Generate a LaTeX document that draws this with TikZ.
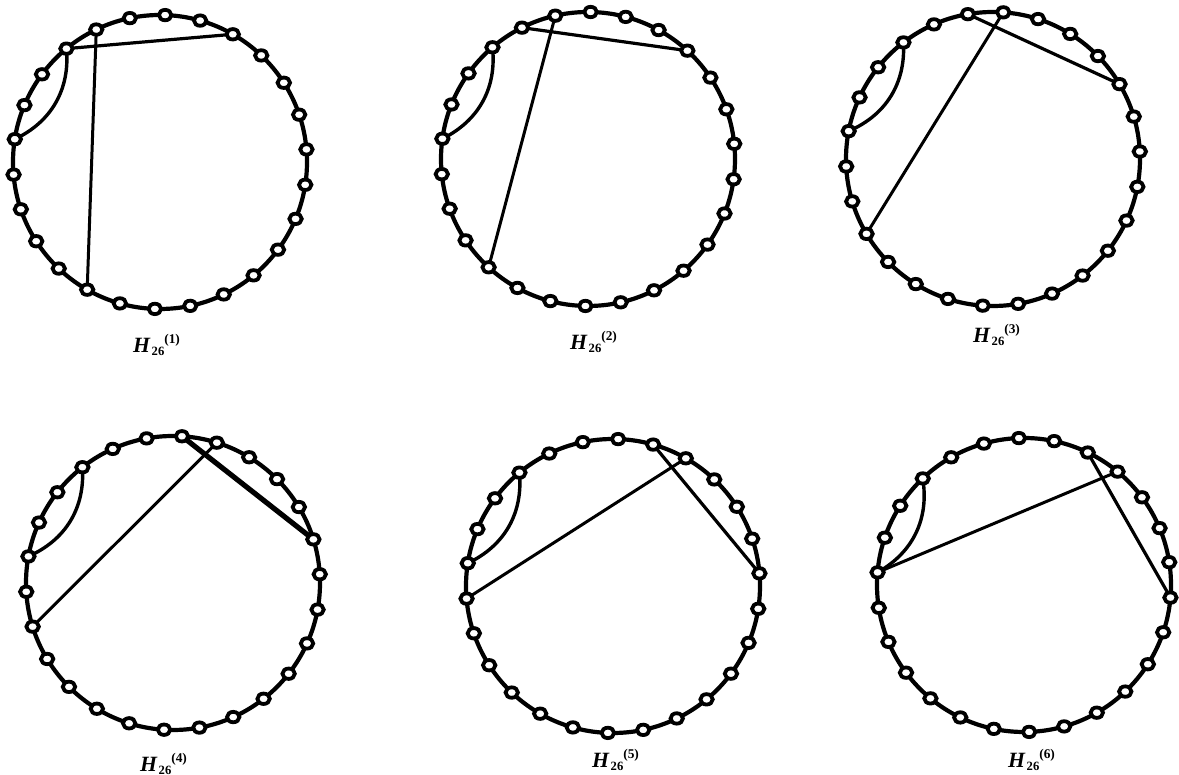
\documentclass[tikz,border=0pt]{standalone}
\usepackage{fontspec}
\setmainfont{Liberation Serif}
\usetikzlibrary{shapes.geometric}
\newcommand{\hname}[1]{\textbf{\textit{H}}\kern1.5pt\raisebox{-3pt}{\fontsize{18}{18}\selectfont\bfseries 26}\raisebox{13pt}{\fontsize{19}{19}\selectfont\bfseries(#1)}}

\begin{document}
\begin{tikzpicture}[x=0.5mm, y=0.5mm,
    ring/.style={line width=2.1mm},
    chord/.style={line width=1.5mm},
    loopedge/.style={line width=1.7mm},
    vtx/.style={draw, ellipse, fill=white, line width=1.9mm, minimum width=6.2mm, minimum height=5.2mm, inner sep=0pt},
    hlabel/.style={font=\fontsize{31}{36}\selectfont, inner sep=0pt, anchor=base west}]
    \useasboundingbox (0,0) rectangle (1179,775);
    % six graphs H_26, each a 26-cycle with one bent edge and two chords
    \foreach \n/\cx/\cy/\rot/\a/\b/\w/\c/\d/\lx/\ly in {
            1/160/613/88/3/24/1.6/2/11/133/422,
            2/588/616/89/2/23/1.6/1/10/570/425,
            3/993/616/86/1/22/1.6/0/9/973/432,
            4/173/192/86.5/0/21/2.6/25/8/140/3,
            5/613/189/88/25/20/1.6/24/7/592/7,
            6/1024/190/92/24/19/1.6/23/6/1008/7}
    {
        \begin{scope}[shift={(\cx,\cy)}]
            \foreach \i in {0,...,25}
                \coordinate (p\n-\i) at (\rot+\i*360/26:147);
            \draw[ring] (0,0) circle[radius=147];
            \draw[loopedge] (p\n-3) to[bend left=35] (p\n-6);
            \draw[line width=\w mm] (p\n-\a) -- (p\n-\b);
            \draw[chord] (p\n-\c) -- (p\n-\d);
            \foreach \i in {0,...,25}
                \node[vtx] (v\n-\i) at (p\n-\i) {};
        \end{scope}
        \node[hlabel] (h\n) at (\lx,\ly) {\hname{\n}};
    }
\end{tikzpicture}
\end{document}
